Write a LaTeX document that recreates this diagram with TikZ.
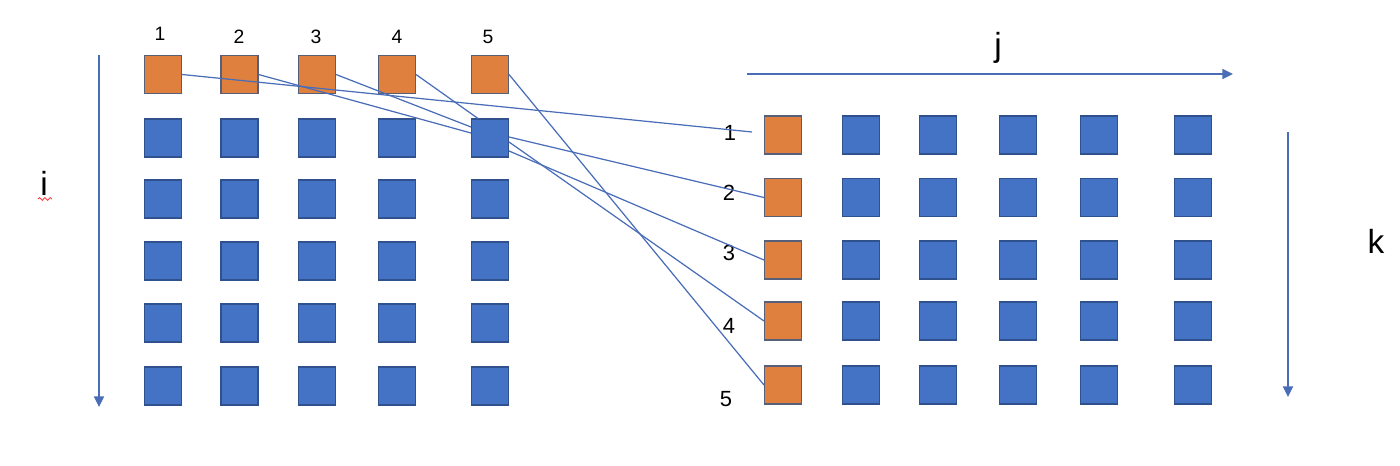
\documentclass[tikz,border=0pt]{standalone}
\usepackage{fontspec}
\setmainfont{Liberation Sans}
\usetikzlibrary{arrows.meta,calc,decorations.pathmorphing}
\definecolor{cblue}{HTML}{4472C4}
\definecolor{cblueedge}{HTML}{2F528F}
\definecolor{corange}{HTML}{E0803F}
\definecolor{coredge}{HTML}{56607A}
\definecolor{cline}{HTML}{4A6DB8}
\begin{document}
\begin{tikzpicture}[x=0.02cm,y=-0.02cm,
  cell/.style={draw, line width=0.6pt, minimum width=0.74cm, minimum height=0.76cm, inner sep=0pt},
  bcell/.style={cell, fill=cblue, draw=cblueedge},
  ocell/.style={cell, fill=corange, draw=coredge},
  link/.style={draw=cline, line width=0.7pt},
  axis/.style={draw=cline, line width=0.8pt, -{Triangle[width=5.7pt,length=6pt]}},
  smalllab/.style={font=\fontsize{11}{13}\selectfont, inner sep=0pt, anchor=base},
  midlab/.style={font=\fontsize{12.5}{14}\selectfont, inner sep=0pt, anchor=base},
  biglab/.style={font=\fontsize{19}{22}\selectfont, inner sep=0pt, anchor=base}]
\useasboundingbox (0,0) rectangle (1400,466);

% left grid
\foreach \c/\x in {1/163,2/239.5,3/317,4/397,5/490}{
  \node[ocell] (L1\c) at (\x,74.5) {};
  \foreach \r/\y in {2/138,3/199,4/261,5/323,6/386}{
    \node[bcell] (L\r\c) at (\x,\y) {};
  }
}
% right grid
\foreach \r/\y in {1/135,2/197.5,3/260,4/321,5/385}{
  \node[ocell] (R\r1) at (783,\y) {};
  \foreach \c/\x in {2/861,3/938,4/1018,5/1099,6/1193}{
    \node[bcell] (R\r\c) at (\x,\y) {};
  }
}

% top labels
\node[smalllab] (t1) at (160,41) {1};
\node[smalllab] (t2) at (239,44) {2};
\node[smalllab] (t3) at (316,44) {3};
\node[smalllab] (t4) at (397,44) {4};
\node[smalllab] (t5) at (488,44) {5};

% right labels
\node[midlab] (k1) at (730,141) {1};
\node[midlab] (k2) at (729,200) {2};
\node[midlab] (k3) at (729,260) {3};
\node[midlab] (k4) at (729,333) {4};
\node[midlab] (k5) at (726,406) {5};

% axes
\coordinate (ia) at (99,55);
\coordinate (ib) at (99,407);
\draw[axis] (ia) -- (ib);
\coordinate (ja) at (747,74);
\coordinate (jb) at (1233,74);
\draw[axis] (ja) -- (jb);
\coordinate (ka) at (1288,132);
\coordinate (kb) at (1288,397);
\draw[axis] (ka) -- (kb);

\node[biglab] (li) at (44,195) {i};
\node[biglab] (lj) at (998,57) {j};
\node[biglab] (lk) at (1376,253) {k};
\draw[red!75, line width=0.5pt, decorate, decoration={snake, amplitude=0.8pt, segment length=3pt}] ($(li.base)+(-6,4)$) -- ($(li.base)+(8,4)$);

% connectors
\coordinate (e1) at (752,132);
\draw[link] (L11.east) -- (e1);
\draw[link] (L12.east) -- ($(L25.west)+(0,-5)$);
\draw[link] (L13.east) -- ($(L25.west)+(0,-11)$);
\draw[link] (L14.east) -- ($(L25.north west)+(7,0)$);
\draw[link] (L15.east) -- (R51.west);
\draw[link] ($(L25.east)+(0,-1)$) -- (R21.west);
\draw[link] ($(L25.east)+(0,4)$) -- (R41.west);
\draw[link] ($(L25.east)+(0,13)$) -- (R31.west);
\end{tikzpicture}
\end{document}
